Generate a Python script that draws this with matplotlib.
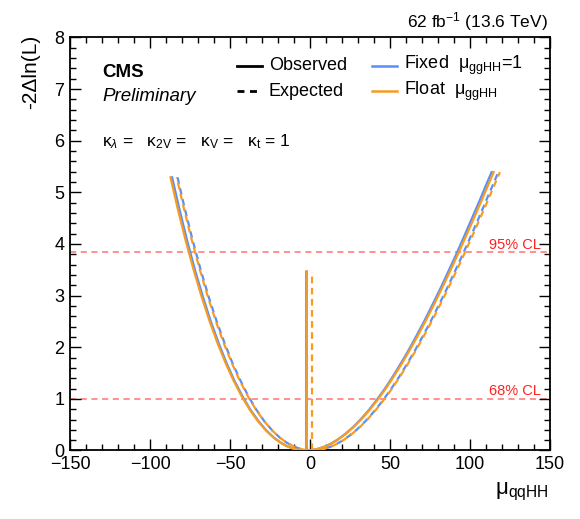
import matplotlib
matplotlib.use("Agg")
import matplotlib.pyplot as plt
from matplotlib.ticker import MultipleLocator

plt.rcParams["font.family"] = ["Liberation Sans", "DejaVu Sans"]
plt.rcParams["mathtext.fontset"] = "custom"
plt.rcParams["mathtext.rm"] = "Liberation Sans"
plt.rcParams["mathtext.it"] = "Liberation Sans:italic"
plt.rcParams["mathtext.bf"] = "Liberation Sans:bold"

BLUE, ORANGE, RED = "#5790fc", "#f89c20", "#ff5a5a"

# -2 delta ln L values along each scan (same level list for all four curves)
scan_y = [5.29, 4.685, 4.064, 3.494, 2.972, 2.498, 2.071, 1.688, 1.348, 1.05,
          0.792, 0.573, 0.392, 0.247, 0.156, 0.087, 0.038, 0.009, 0.0,
          0.009, 0.034, 0.076, 0.134, 0.207, 0.320, 0.455, 0.611, 0.788, 0.984,
          1.198, 1.430, 1.678, 1.942, 2.220, 2.511, 2.815, 3.131, 3.457, 3.793,
          4.137, 4.489, 4.847, 5.211, 5.39]

# mu_qqHH positions of those values
obs_float_x = [-87.2, -82.7, -77.7, -72.7, -67.7, -62.7, -57.7, -52.7, -47.7, -42.7,
               -37.7, -32.7, -27.7, -22.7, -18.7, -14.7, -10.7, -6.7, -2.7,
               1.3, 5.3, 9.3, 13.3, 17.3, 22.3, 27.3, 32.3, 37.3, 42.3,
               47.3, 52.3, 57.3, 62.3, 67.3, 72.3, 77.3, 82.3, 87.3, 92.3,
               97.3, 102.3, 107.3, 112.3, 114.8]
obs_fixed_x = [-86.2, -81.7, -76.8, -71.9, -66.9, -62.0, -57.0, -52.1, -47.2, -42.2,
               -37.3, -32.3, -27.4, -22.5, -18.5, -14.6, -10.6, -6.65, -2.7,
               1.26, 5.21, 9.17, 13.12, 17.08, 22.0, 27.0, 31.9, 36.9, 41.8,
               46.8, 51.7, 56.6, 61.6, 66.5, 71.5, 76.4, 81.4, 86.3, 91.3,
               96.2, 101.1, 106.1, 111.0, 113.5]
exp_float_x = [-83.3, -78.8, -73.8, -68.8, -63.8, -58.8, -53.8, -48.8, -43.8, -38.8,
               -33.8, -28.8, -23.8, -18.8, -14.8, -10.8, -6.8, -2.8, 1.2,
               5.2, 9.2, 13.2, 17.2, 21.2, 26.2, 31.2, 36.2, 41.2, 46.2,
               51.2, 56.2, 61.2, 66.2, 71.2, 76.2, 81.2, 86.2, 91.2, 96.2,
               101.2, 106.2, 111.2, 116.2, 118.7]
exp_fixed_x = [-82.8, -78.3, -73.3, -68.3, -63.3, -58.3, -53.3, -48.4, -43.4, -38.5,
               -33.6, -28.7, -23.7, -18.8, -14.8, -10.8, -6.8, -2.8, 1.2,
               5.2, 9.2, 13.2, 17.1, 21.1, 26.1, 31.0, 36.0, 40.9, 45.9,
               50.8, 55.8, 60.7, 65.7, 70.6, 75.6, 80.5, 85.5, 90.4, 95.4,
               100.3, 105.3, 110.2, 115.2, 117.7]

# best-fit markers
bestfit_obs, bestfit_exp = -2.7, 1.2
bestfit_obs_top, bestfit_exp_top = 3.5, 3.45

cl_levels = [1.0, 3.84]
cl_labels = ["68% CL", "95% CL"]

fig = plt.figure(figsize=(5.8, 5.19), dpi=100)
ax = fig.add_axes([0.1207, 0.132, 0.8276, 0.796])

for y in cl_levels:
    ax.axhline(y, color=RED, lw=1.1, ls=(0, (4, 3)), alpha=0.85, zorder=1)
for y, lab in zip(cl_levels, cl_labels):
    ax.text(0.98, y + 0.07, lab, transform=ax.get_yaxis_transform(), ha="right",
            va="baseline", color="#ff2020", fontsize=10.5)

ax.plot(obs_fixed_x, scan_y, color=BLUE, lw=1.6, zorder=3)
ax.plot(obs_float_x, scan_y, color=ORANGE, lw=1.6, zorder=4)
ax.plot(exp_fixed_x, scan_y, color=BLUE, lw=1.6, ls=(0, (3, 2)), zorder=3)
ax.plot(exp_float_x, scan_y, color=ORANGE, lw=1.6, ls=(2.5, (3, 2)), zorder=4)

ax.vlines(bestfit_obs, 0, bestfit_obs_top, color="#a0a0a0", lw=2.2, zorder=3)
ax.vlines(bestfit_obs + 0.6, 0, bestfit_obs_top, color=ORANGE, lw=1.2, zorder=4)
ax.vlines(bestfit_exp, 0, bestfit_exp_top, color=ORANGE, lw=1.6, ls=(0, (3, 2)), zorder=4)

ax.set_xlim(-150, 150)
ax.set_ylim(0, 8)
ax.xaxis.set_minor_locator(MultipleLocator(10))
ax.yaxis.set_major_locator(MultipleLocator(1))
ax.yaxis.set_minor_locator(MultipleLocator(0.2))
ax.set_xticks(range(-150, 151, 50))
ax.set_xticklabels(["\u2212150", "\u2212100", "\u221250", "0", "50", "100", "150"])
ax.tick_params(which="both", direction="in", top=True, right=True, labelsize=13, width=1.0)
ax.tick_params(which="major", length=8, pad=4)
ax.tick_params(which="minor", length=4)
for s in ax.spines.values():
    s.set_linewidth(1.3)

# texts
ax.text(0.067, 0.916, "CMS", transform=ax.transAxes, fontsize=13.5, fontweight="bold", va="center")
ax.text(0.067, 0.856, "Preliminary", transform=ax.transAxes, fontsize=13.5, style="italic", va="center")
ax.text(0.067, 0.747, r"κ$_{λ}$ =   κ$_{\mathrm{2V}}$ =   κ$_{\mathrm{V}}$ =   κ$_{\mathrm{t}}$ = 1",
        transform=ax.transAxes, fontsize=12.5, va="center")

# legend drawn by hand
leg = [(0.348, 0.931, "k", "-", "Observed"),
       (0.348, 0.870, "k", (0, (2.5, 2)), "Expected"),
       (0.629, 0.931, BLUE, "-", "Fixed  μ$_{\\mathrm{ggHH}}$=1"),
       (0.629, 0.870, ORANGE, "-", "Float  μ$_{\\mathrm{ggHH}}$")]
for x0, y0, c, ls, lab in leg:
    ax.plot([x0, x0 + 0.052], [y0, y0], transform=ax.transAxes, color=c, ls=ls,
            lw=2.0 if c == "k" else 1.8, clip_on=False)
    ax.text(x0 + 0.066, y0, lab, transform=ax.transAxes, fontsize=13, va="center")

fig.text(0.945, 0.948, "62 fb$^{-1}$ (13.6 TeV)", ha="right", va="baseline", fontsize=12.5)
fig.text(0.052, 0.933, "-2\u0394ln(L)", rotation=90, ha="center", va="top", fontsize=15)
fig.text(0.945, 0.031, "μ$_{\\mathrm{qqHH}}$", ha="right", va="bottom", fontsize=16)

fig.savefig("out.png", dpi=100)
